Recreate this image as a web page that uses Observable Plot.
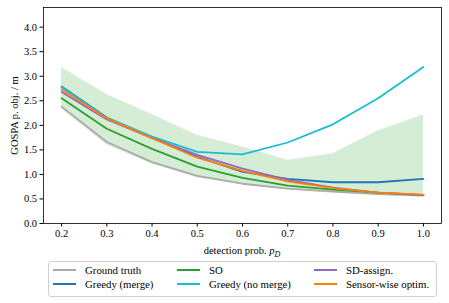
<!DOCTYPE html>
<html>
<head>
<meta charset="utf-8">
<script src="https://cdn.jsdelivr.net/npm/d3@7"></script>
<script src="https://cdn.jsdelivr.net/npm/@observablehq/plot@0.6"></script>
<style>
  html, body { margin: 0; padding: 0; background: #fff; }
  body { width: 449px; height: 303px; position: relative; overflow: hidden; font-family: "Liberation Serif", "Times New Roman", "DejaVu Serif", serif; }
  #chart { position: absolute; left: 0; top: 0; }
  #chart svg, #chart svg text { font-family: "Liberation Serif", "Times New Roman", "DejaVu Serif", serif !important; }
  #xlabel { position: absolute; left: 43px; width: 398px; top: 245px; text-align: center; font-size: 10.5px; color: #000; }
  #legend { position: absolute; left: 48px; top: 261px; width: 387px; height: 34px; border: 1px solid #d0d0d0; border-radius: 3px; background: #fff; }
  .item { position: absolute; font-size: 10.8px; line-height: 12px; white-space: nowrap; color: #000; }
  .swatch { position: absolute; width: 23px; height: 2px; top: 5px; left: 0; }
  .lbl { position: absolute; left: 32px; top: 0; }
</style>
</head>
<body>
<div id="chart"></div>
<div id="xlabel">detection prob. <i>p</i><sub style="font-size:8px;font-style:italic;">D</sub></div>
<div id="legend"></div>
<script>
const pD = [0.2, 0.3, 0.4, 0.5, 0.6, 0.7, 0.8, 0.9, 1.0];
const groundTruth   = [2.38, 1.66, 1.25, 0.97, 0.81, 0.71, 0.65, 0.60, 0.57];
const greedyMerge   = [2.79, 2.16, 1.75, 1.36, 1.05, 0.91, 0.84, 0.84, 0.91];
const so            = [2.55, 1.93, 1.52, 1.16, 0.93, 0.77, 0.69, 0.63, 0.58];
const greedyNoMerge = [2.78, 2.15, 1.77, 1.46, 1.41, 1.65, 2.02, 2.55, 3.19];
const sdAssign      = [2.68, 2.12, 1.74, 1.40, 1.12, 0.89, 0.73, 0.63, 0.58];
const sensorWise    = [2.73, 2.14, 1.74, 1.34, 1.07, 0.86, 0.72, 0.63, 0.59];
const soUpper       = [3.18, 2.63, 2.22, 1.80, 1.56, 1.29, 1.42, 1.89, 2.21];
const soLower       = [2.33, 1.60, 1.21, 0.93, 0.79, 0.69, 0.62, 0.58, 0.56];
const yTicks = [0.0, 0.5, 1.0, 1.5, 2.0, 2.5, 3.0, 3.5, 4.0];

const seriesNames  = ["Ground truth", "Greedy (merge)", "SO", "Greedy (no merge)", "SD-assign.", "Sensor-wise optim."];
const seriesValues = [groundTruth, greedyMerge, so, greedyNoMerge, sdAssign, sensorWise];
const seriesColors = ["#ababab", "#1f77b4", "#2ca02c", "#17becf", "#9467bd", "#ff7f0e"];

const band = pD.map((x, i) => ({x, lo: soLower[i], hi: soUpper[i]}));
const rows = [];
seriesNames.forEach((name, s) => pD.forEach((x, i) => rows.push({series: name, x, y: seriesValues[s][i]})));

const chart = Plot.plot({
  width: 449,
  height: 258,
  marginLeft: 43,
  marginRight: 8,
  marginTop: 7,
  marginBottom: 35,
  style: {fontFamily: "'Liberation Serif', 'Times New Roman', 'DejaVu Serif', serif", fontSize: "10.5px", background: "#fff", color: "#000"},
  x: {domain: [0.16, 1.04], ticks: pD, tickFormat: d => d.toFixed(1), tickSize: 3.5, tickPadding: 3, label: null},
  y: {domain: [0, 4.4], ticks: yTicks, tickFormat: d => d.toFixed(1), tickSize: 3.5, tickPadding: 3,
      label: "GOSPA p. obj. / m", labelAnchor: "center", labelOffset: 33, labelArrow: "none"},
  color: {domain: seriesNames, range: seriesColors},
  marks: [
    Plot.areaY(band, {x: "x", y1: "lo", y2: "hi", fill: "#2ca02c", fillOpacity: 0.2}),
    Plot.line(rows, {x: "x", y: "y", z: "series", stroke: "series", strokeWidth: 1.8}),
    Plot.frame({stroke: "#000", strokeWidth: 0.8})
  ]
});
document.getElementById("chart").appendChild(chart);

const legend = document.getElementById("legend");
const colX = [4, 128, 265];
const rowY = [2, 16];
seriesNames.forEach((name, s) => {
  const col = Math.floor(s / 2), row = s % 2;
  const item = document.createElement("div");
  item.className = "item";
  item.style.left = colX[col] + "px";
  item.style.top = rowY[row] + "px";
  item.innerHTML = `<div class="swatch" style="background:${seriesColors[s]}"></div><span class="lbl">${name}</span>`;
  legend.appendChild(item);
});
</script>
</body>
</html>
